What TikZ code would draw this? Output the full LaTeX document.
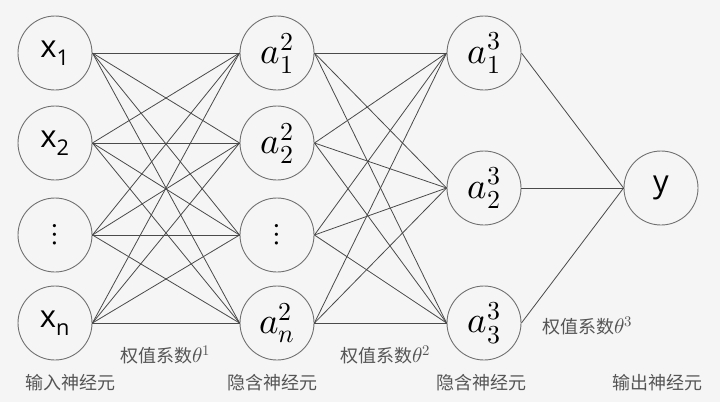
\documentclass[tikz,border=0pt]{standalone}
\usepackage{amsmath}
\usepackage{fontspec,unicode-math}
\setmainfont{Open Sans}
\setmathfont{Latin Modern Math}
\newfontfamily\cjk{Noto Sans CJK SC}
\usetikzlibrary{positioning}
\definecolor{bgcol}{HTML}{F5F5F5}
\definecolor{rimcol}{HTML}{707070}
\definecolor{wirecol}{HTML}{4A4A4A}
\definecolor{txtcol}{HTML}{555555}
\newcommand\act[2]{{\fontsize{37}{40}\selectfont$a_{#1}^{#2}$}}
\newcommand\wt[1]{{\fontsize{21}{22}\selectfont$\theta^{#1}$}}

\begin{document}
\begin{tikzpicture}[x=1pt,y=-1pt,
  neuron/.style={circle,draw=rimcol,line width=.9pt,minimum size=74pt,inner sep=0pt,
    font=\fontsize{31}{34}\selectfont},
  wire/.style={draw=wirecol,line width=.8pt},
  caption/.style={text=txtcol,font=\cjk\fontsize{18}{20}\selectfont}]
\fill[bgcol] (0,0) rectangle (720,402);
% input layer
\node[neuron] (i1) at (55,53) {x$_{\text{1}}$};
\node[neuron] (i2) at (55,143) {x$_{\text{2}}$};
\node[neuron] (i3) at (55,235) {$\vdots$};
\node[neuron] (i4) at (55,323) {x$_{\text{n}}$};
% hidden layer 1
\node[neuron] (h1) at (277,53) {\act{1}{2}};
\node[neuron] (h2) at (277,143) {\act{2}{2}};
\node[neuron] (h3) at (277,235) {$\vdots$};
\node[neuron] (h4) at (277,323) {\act{n}{2}};
% hidden layer 2
\node[neuron] (g1) at (484,53) {\act{1}{3}};
\node[neuron] (g2) at (484,188) {\act{2}{3}};
\node[neuron] (g3) at (484,323) {\act{3}{3}};
% output
\node[neuron] (y) at (661,188) {y};
\foreach \a in {1,...,4}{
\foreach \b in {1,...,4}
  \draw[wire] (i\a.east)--(h\b.west);
\foreach \b in {1,...,3}
  \draw[wire] (h\a.east)--(g\b.west);}
\foreach \b in {1,...,3}
  \draw[wire] (g\b.east)--(y.west);
\node[caption] (w1) at (165,355) {权值系数\wt{1}};
\node[caption] (w2) at (385,355) {权值系数\wt{2}};
\node[caption] (w3) at (587,326) {权值系数\wt{3}};
\node[caption] (l1) at (70,383) {输入神经元};
\node[caption] (l2) at (272,383) {隐含神经元};
\node[caption] (l3) at (481,383) {隐含神经元};
\node[caption] (l4) at (657,383) {输出神经元};
\end{tikzpicture}
\end{document}
